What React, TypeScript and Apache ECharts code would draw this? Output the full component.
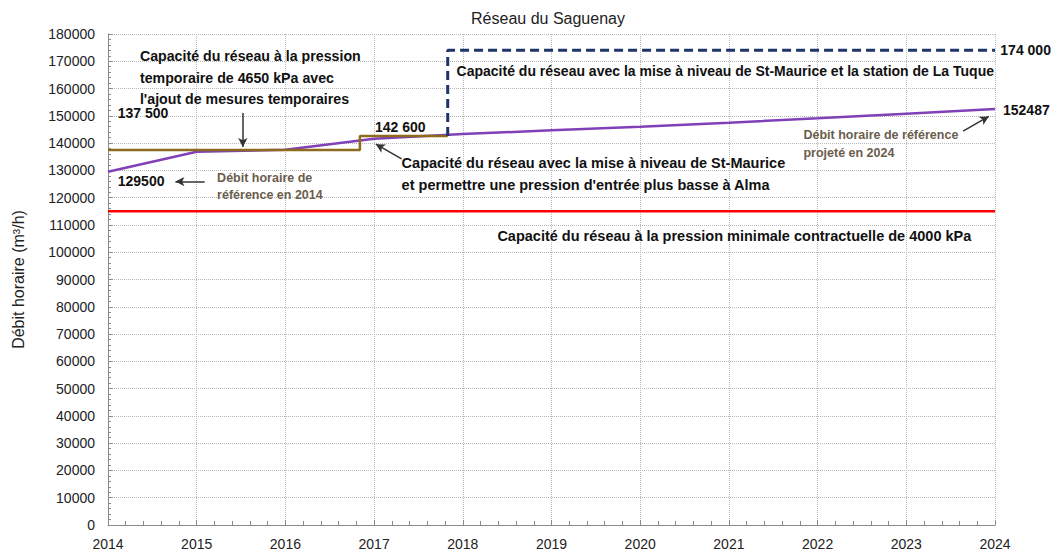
import React, { useEffect, useRef } from "react";
import * as echarts from "echarts";

// ---- Data ----
const years = [2014, 2015, 2016, 2017, 2018, 2019, 2020, 2021, 2022, 2023, 2024];
const debitReference = [129500, 136800, 137600, 141600, 143300, 144700, 146000, 147500, 149100, 150800, 152487];
const minContractuel = 115000;
const cap4650Steps: [number, number][] = [
  [2014, 137500],
  [2016.84, 137500],
  [2016.84, 142600],
  [2017.83, 142600],
];
const capLaTuqueSteps: [number, number][] = [
  [2017.83, 142600],
  [2017.83, 174000],
  [2024, 174000],
];
const yTicks = { min: 0, max: 180000, interval: 10000 };
const chartTitle = "Réseau du Saguenay";

// ---- Annotations (data coordinates) ----
type Ann = { x: number; y: number; text: string; bold?: boolean; size?: number; color?: string };
const NOTE = "#6b5d4d";
const annotations: Ann[] = [
  { x: 2014.11, y: 151000, text: "137 500", bold: true, size: 14 },
  { x: 2014.11, y: 126100, text: "129500", bold: true, size: 14 },
  { x: 2015.23, y: 127200, text: "Débit horaire de", bold: true, size: 12.5, color: NOTE },
  { x: 2015.23, y: 121000, text: "référence en 2014", bold: true, size: 12.5, color: NOTE },
  { x: 2014.36, y: 171900, text: "Capacité du réseau à la pression", bold: true, size: 14.2 },
  { x: 2014.36, y: 163900, text: "temporaire de 4650 kPa avec", bold: true, size: 14.2 },
  { x: 2014.36, y: 156200, text: "l'ajout de mesures temporaires", bold: true, size: 14.2 },
  { x: 2017.01, y: 145900, text: "142 600", bold: true, size: 14 },
  { x: 2017.31, y: 132700, text: "Capacité du réseau avec la mise à niveau de St-Maurice", bold: true, size: 14.5 },
  { x: 2017.31, y: 124600, text: "et permettre une pression d'entrée plus basse à Alma", bold: true, size: 14.5 },
  { x: 2017.93, y: 166400, text: "Capacité du réseau avec la mise à niveau de St-Maurice et la station de La Tuque", bold: true, size: 14 },
  { x: 2024.06, y: 174100, text: "174 000", bold: true, size: 14 },
  { x: 2024.09, y: 152100, text: "152487", bold: true, size: 14 },
  { x: 2021.84, y: 143000, text: "Débit horaire de référence", bold: true, size: 12.5, color: NOTE },
  { x: 2021.84, y: 136400, text: "projeté en 2024", bold: true, size: 12.5, color: NOTE },
  { x: 2018.39, y: 105900, text: "Capacité du réseau à la pression minimale contractuelle de 4000 kPa", bold: true, size: 14.5 },
];

const arrows: [[number, number], [number, number]][] = [
  [[2015.52, 151000], [2015.52, 138600]],
  [[2017.31, 134200], [2017.02, 139600]],
  [[2015.09, 125900], [2014.76, 125900]],
  [[2023.64, 144400], [2023.93, 149800]],
];

const FONT = "'Liberation Sans', Arial, sans-serif";

export default function App() {
  const ref = useRef<HTMLDivElement>(null);
  useEffect(() => {
    if (!ref.current) return;
    const chart = echarts.init(ref.current, undefined, { renderer: "svg" });
    const option: any = {
      animation: false,
      backgroundColor: "#ffffff",
      grid: { left: 108, right: 62, top: 34, bottom: 29 },
      xAxis: {
        type: "value",
        min: years[0],
        max: years[years.length - 1],
        interval: 1,
        axisLine: { show: true, lineStyle: { color: "#8a8a8a", width: 1 } },
        axisTick: { show: true, inside: true, length: 5, lineStyle: { color: "#8a8a8a" } },
        minorTick: { show: true, splitNumber: 5, length: 4, lineStyle: { color: "#8a8a8a" } },
        splitLine: { show: true, lineStyle: { color: "#b8b8b8", type: "dotted" } },
        axisLabel: {
          formatter: (v: number) => String(v),
          fontFamily: FONT,
          fontSize: 14,
          color: "#222",
          margin: 12,
        },
      },
      yAxis: {
        type: "value",
        min: yTicks.min,
        max: yTicks.max,
        interval: yTicks.interval,
        name: "Débit horaire (m³/h)",
        nameLocation: "middle",
        nameGap: 82,
        nameTextStyle: { fontFamily: FONT, fontSize: 16, color: "#222" },
        axisLine: { show: true, lineStyle: { color: "#8a8a8a", width: 1 } },
        axisTick: { show: true, inside: true, length: 5, lineStyle: { color: "#8a8a8a" } },
        minorTick: { show: true, splitNumber: 5, length: 3, lineStyle: { color: "#8a8a8a" } },
        splitLine: { show: true, lineStyle: { color: "#b8b8b8", type: "dotted" } },
        axisLabel: {
          formatter: (v: number) => String(v),
          fontFamily: FONT,
          fontSize: 14,
          color: "#222",
          margin: 13,
        },
      },
      series: [
        {
          name: "Minimale 4000 kPa",
          type: "line",
          data: [
            [years[0], minContractuel],
            [years[years.length - 1], minContractuel],
          ],
          symbol: "none",
          lineStyle: { color: "#ff0000", width: 2.5 },
        },
        {
          name: "Capacité 4650 kPa",
          type: "line",
          data: cap4650Steps,
          symbol: "none",
          lineStyle: { color: "#8d6a1c", width: 2.5 },
          z: 3,
        },
        {
          name: "Débit horaire de référence",
          type: "line",
          data: years.map((y, i) => [y, debitReference[i]]),
          symbol: "none",
          lineStyle: { color: "#8040b8", width: 2.5 },
          z: 2,
          markLine: {
            silent: true,
            symbol: ["none", "arrow"],
            symbolSize: [7, 9],
            lineStyle: { color: "#333", width: 1.5, type: "solid" },
            label: { show: false },
            data: arrows.map(([a, b]) => [{ coord: a }, { coord: b }]),
          },
        },
        {
          name: "Capacité La Tuque",
          type: "line",
          data: capLaTuqueSteps,
          symbol: "none",
          lineStyle: { color: "#1f3468", width: 3, type: [9, 5] },
          z: 4,
        },
      ],
    };
    chart.setOption(option);
    const graphic: any[] = annotations.map((a) => {
      const p = chart.convertToPixel({ gridIndex: 0 }, [a.x, a.y]) as number[];
      return {
        type: "text",
        x: p[0],
        y: p[1],
        z: 100,
        style: {
          text: a.text,
          fontFamily: FONT,
          fontSize: a.size ?? 14,
          fontWeight: a.bold ? "bold" : "normal",
          fill: a.color ?? "#111",
          verticalAlign: "middle",
          align: "left",
        },
      };
    });
    graphic.push({
      type: "text",
      x: 548,
      y: 18,
      z: 100,
      style: {
        text: chartTitle,
        fontFamily: FONT,
        fontSize: 16,
        fill: "#222",
        align: "center",
        verticalAlign: "middle",
      },
    });
    chart.setOption({ graphic });
    return () => chart.dispose();
  }, []);
  return (
    <div
      ref={ref}
      style={{ position: "fixed", left: 0, top: 0, width: 1057, height: 554 }}
    />
  );
}
